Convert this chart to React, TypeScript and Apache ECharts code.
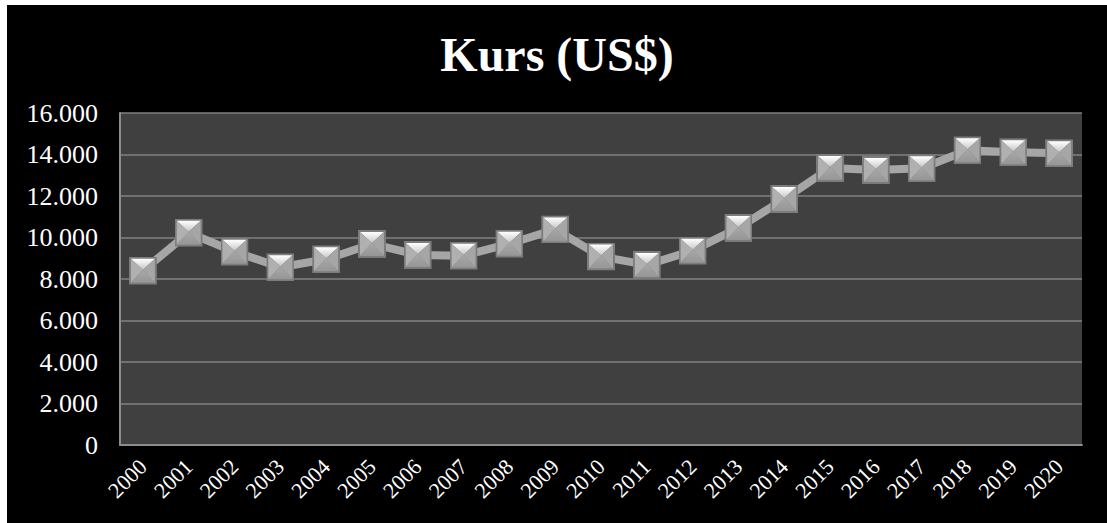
import React, { useEffect, useRef } from "react";
import * as echarts from "echarts";

const years = [
  "2000", "2001", "2002", "2003", "2004", "2005", "2006", "2007", "2008", "2009", "2010",
  "2011", "2012", "2013", "2014", "2015", "2016", "2017", "2018", "2019", "2020",
];
const kurs = [
  8400, 10230, 9315, 8565, 8950, 9690, 9160, 9125, 9700, 10390, 9080,
  8680, 9365, 10460, 11855, 13350, 13255, 13340, 14200, 14110, 14060,
];
const yMin = 0;
const yMax = 16000;
const yStep = 2000;
const title = "Kurs (US$)";

const FONT = "Liberation Serif, Times New Roman, serif";

const markerSvg =
  "<svg xmlns='http://www.w3.org/2000/svg' width='28' height='28' viewBox='0 0 28 28'>" +
  "<defs><linearGradient id='t' x1='0' y1='0' x2='0' y2='1'>" +
  "<stop offset='0' stop-color='#ffffff'/><stop offset='1' stop-color='#c8c8c8'/></linearGradient>" +
  "<linearGradient id='b' x1='0' y1='0' x2='0' y2='1'>" +
  "<stop offset='0' stop-color='#a8a8a8'/><stop offset='1' stop-color='#969696'/></linearGradient></defs>" +
  "<rect x='0' y='0' width='28' height='28' fill='#7c7c7c'/>" +
  "<polygon points='2,2 26,2 14,13' fill='url(#t)'/>" +
  "<polygon points='2,2 14,13 2,26' fill='#b0b0b0'/>" +
  "<polygon points='26,2 26,26 14,13' fill='#a6a6a6'/>" +
  "<polygon points='2,26 26,26 14,13' fill='url(#b)'/>" +
  "</svg>";
const markerSymbol = "image://data:image/svg+xml;charset=utf-8," + encodeURIComponent(markerSvg);

export default function App() {
  const ref = useRef<HTMLDivElement>(null);

  useEffect(() => {
    if (!ref.current) return;
    const chart = echarts.init(ref.current, null, { renderer: "svg" });
    chart.setOption({
      animation: false,
      backgroundColor: "#000000",
      title: {
        text: title,
        left: "center",
        top: 20,
        textStyle: {
          color: "#ffffff",
          fontFamily: FONT,
          fontWeight: "bold",
          fontSize: 48,
        },
      },
      grid: {
        left: 113,
        right: 25,
        top: 108,
        bottom: 78,
        show: true,
        backgroundColor: "#404040",
        borderWidth: 0,
      },
      xAxis: {
        type: "category",
        data: years,
        boundaryGap: true,
        axisLine: { show: true, lineStyle: { color: "#8c8c8c", width: 2 } },
        axisTick: { show: false },
        axisLabel: {
          color: "#ffffff",
          fontFamily: FONT,
          fontSize: 22,
          rotate: 45,
          margin: 18,
          interval: 0,
          hideOverlap: false,
        },
        splitLine: { show: false },
      },
      yAxis: {
        type: "value",
        min: yMin,
        max: yMax,
        interval: yStep,
        axisLine: { show: true, lineStyle: { color: "#8c8c8c", width: 2 } },
        axisTick: { show: false },
        axisLabel: {
          color: "#ffffff",
          fontFamily: FONT,
          fontSize: 26,
          margin: 22,
          formatter: (v: number) => (v === 0 ? "0" : v.toLocaleString("de-DE")),
        },
        splitLine: { show: true, lineStyle: { color: "#808080", width: 1.5 } },
      },
      series: [
        {
          type: "line",
          data: kurs,
          symbol: markerSymbol,
          symbolSize: 28,
          showSymbol: true,
          lineStyle: { color: "#a6a6a6", width: 8 },
          itemStyle: { color: "#a6a6a6" },
          z: 3,
        },
      ],
    });
    return () => chart.dispose();
  }, []);

  return (
    <div
      style={{
        position: "absolute",
        left: 0,
        top: 0,
        width: 1107,
        height: 523,
        background: "#ffffff",
      }}
    >
      <div
        ref={ref}
        style={{ position: "absolute", left: 7, top: 5, width: 1100, height: 518 }}
      />
    </div>
  );
}
